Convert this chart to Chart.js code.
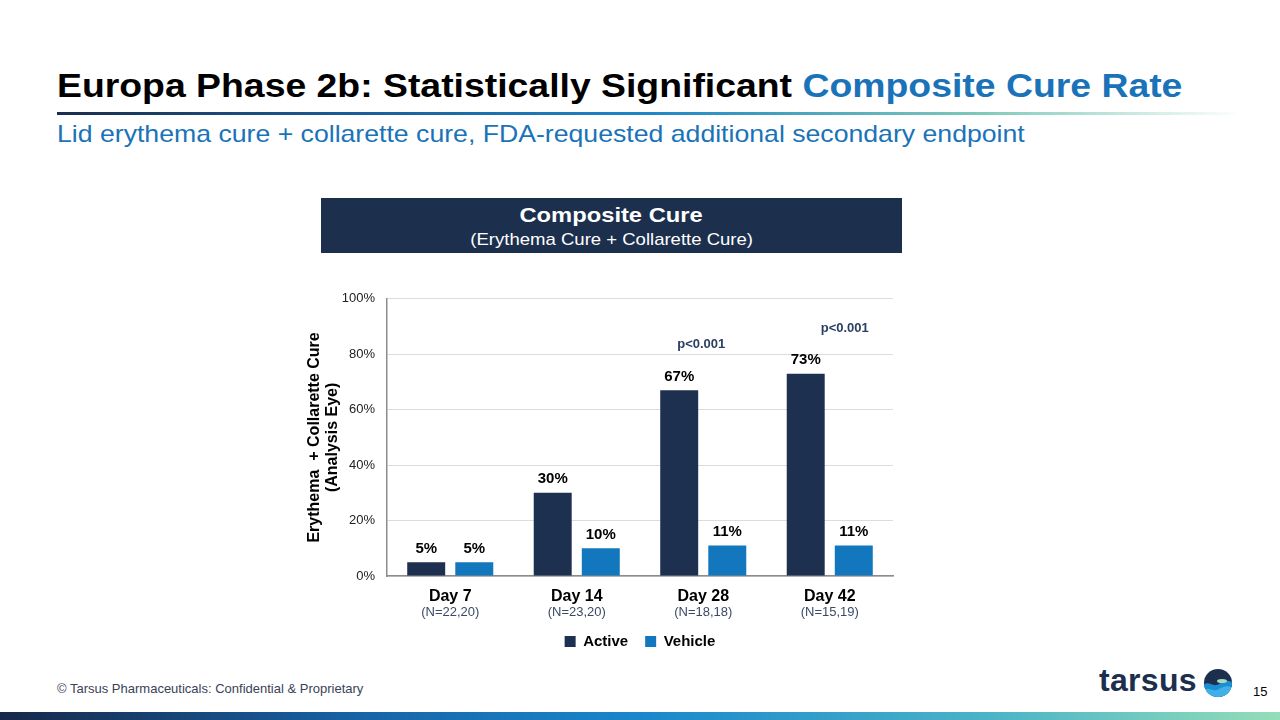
<!DOCTYPE html>
<html>
<head>
<meta charset="utf-8">
<script src="https://cdn.jsdelivr.net/npm/chart.js@4/dist/chart.umd.min.js"></script>
<style>
  html, body { margin:0; padding:0; background:#fff; }
  body { width:1280px; height:720px; position:relative; overflow:hidden; font-family:"Liberation Sans", Arial, sans-serif; }
  .title { position:absolute; left:57px; top:66px; font-size:34px; font-weight:bold; color:#000; white-space:nowrap; transform:scaleX(1.099); transform-origin:left top; }
  .title .hl { color:#1a73b8; }
  .rule { position:absolute; left:57px; top:112px; width:1185px; height:3px;
          background:linear-gradient(90deg,#1b2d4b 0%,#1a5d9a 25%,#1f86c6 50%,#7fc9b9 78%,rgba(200,235,225,0) 100%); }
  .subtitle { position:absolute; left:57px; top:120px; font-size:24px; color:#1a73b8; white-space:nowrap; transform:scaleX(1.11); transform-origin:left top; }
  .hbox { position:absolute; left:321px; top:198px; width:581px; height:55px; background:#1c2f4d; color:#fff; text-align:center; }
  .hbox .t1 { font-size:21px; font-weight:bold; margin-top:5px; line-height:24px; }
  .hbox .t2 { font-size:17px; line-height:22px; margin-top:2px; }
  .hbox span { display:inline-block; }
  .hbox .t1 span { transform:scaleX(1.13); }
  .hbox .t2 span { transform:scaleX(1.09); }
  #wrap { position:absolute; left:296px; top:279px; width:614px; height:380px; }
  .footer { position:absolute; left:57px; top:681px; font-size:13px; color:#3a4258; white-space:nowrap; }
  .page { position:absolute; left:1253px; top:684px; font-size:13px; color:#000; }
  .logo { position:absolute; left:1099px; top:662px; font-size:32px; font-weight:bold; color:#1c2f4d; letter-spacing:0.3px; }
  .mark { position:absolute; left:1203px; top:668px; }
  .bar { position:absolute; left:0; top:712px; width:1280px; height:8px;
         background:linear-gradient(90deg,#17284a 0%,#1763a6 28%,#1a87cc 50%,#4db5c6 78%,#94ddb9 100%); }
</style>
</head>
<body>
<div class="title">Europa Phase 2b: Statistically Significant <span class="hl">Composite Cure Rate</span></div>
<div class="rule"></div>
<div class="subtitle">Lid erythema cure + collarette cure, FDA-requested additional secondary endpoint</div>
<div class="hbox"><div class="t1"><span>Composite Cure</span></div><div class="t2"><span>(Erythema Cure + Collarette Cure)</span></div></div>
<div id="wrap"><canvas id="c"></canvas></div>
<div class="footer">© Tarsus Pharmaceuticals: Confidential &amp; Proprietary</div>
<div class="page">15</div>
<div class="logo">tarsus</div>
<svg class="mark" width="30" height="30" viewBox="0 0 30 30">
  <defs><clipPath id="cl"><circle cx="15" cy="15" r="14"/></clipPath></defs>
  <circle cx="15" cy="15" r="14" fill="#1c2f4d"/>
  <g clip-path="url(#cl)">
    <path d="M0 17 C6 12, 10 20, 16 16 S 26 12, 30 15 L30 30 L0 30 Z" fill="#1a8fd6"/>
    <path d="M0 22 C6 18, 10 25, 16 21 S 26 18, 30 20 L30 30 L0 30 Z" fill="#3fb0e8"/>
    <ellipse cx="19" cy="13" rx="5" ry="2" fill="#a9d9c2"/>
  </g>
</svg>
<div class="bar"></div>
<script>
const categories = ['Day 7', 'Day 14', 'Day 28', 'Day 42'];
const nLabels = ['(N=22,20)', '(N=23,20)', '(N=18,18)', '(N=15,19)'];
const activeValues = [5, 30, 67, 73];
const vehicleValues = [5, 10, 11, 11];
const pLabels = ['', '', 'p<0.001', 'p<0.001'];
const yTickValues = [0, 20, 40, 60, 80, 100];
const seriesNames = ['Active', 'Vehicle'];

const FONT = '"Liberation Sans", Arial, sans-serif';

const labelPlugin = {
  id: 'labels',
  afterDatasetsDraw(chart) {
    const ctx = chart.ctx;
    ctx.save();
    ctx.textAlign = 'center';
    ctx.textBaseline = 'bottom';
    ctx.font = 'bold 15px ' + FONT;
    ctx.fillStyle = '#000';
    chart.data.datasets.forEach((ds, di) => {
      const meta = chart.getDatasetMeta(di);
      meta.data.forEach((bar, i) => {
        ctx.fillText(ds.data[i] + '%', bar.x, bar.y - 6);
      });
    });
    const xs = chart.scales.x;
    const metaA = chart.getDatasetMeta(0);
    ctx.font = 'bold 13px ' + FONT;
    ctx.fillStyle = '#2b3f63';
    const shift = [0, 0, -2, 15];
    pLabels.forEach((p, i) => {
      if (!p) return;
      ctx.fillText(p, xs.getPixelForValue(i) + shift[i], metaA.data[i].y - 39);
    });
    ctx.font = '13px ' + FONT;
    ctx.fillStyle = '#3a4a66';
    ctx.textBaseline = 'middle';
    nLabels.forEach((n, i) => {
      ctx.fillText(n, xs.getPixelForValue(i), xs.top + 36);
    });
    ctx.restore();
  }
};

new Chart(document.getElementById('c'), {
  type: 'bar',
  data: {
    labels: categories,
    datasets: [
      { label: seriesNames[0], data: activeValues, backgroundColor: '#1d3050', categoryPercentage: 0.76, barPercentage: 0.79 },
      { label: seriesNames[1], data: vehicleValues, backgroundColor: '#1277bd', categoryPercentage: 0.76, barPercentage: 0.79 }
    ]
  },
  options: {
    responsive: true,
    maintainAspectRatio: false,
    animation: false,
    layout: { padding: { left: 0, right: 17, top: 1, bottom: 0 } },
    plugins: {
      tooltip: { enabled: false },
      legend: {
        position: 'bottom',
        fullSize: false,
        labels: { boxWidth: 11, boxHeight: 11, color: '#000', font: { family: FONT, size: 15, weight: 'bold' }, padding: 17 }
      }
    },
    scales: {
      x: {
        grid: { display: false, drawTicks: false },
        border: { color: '#8c8c8c', width: 1.5 },
        ticks: { color: '#000', font: { family: FONT, size: 16, weight: 'bold' }, padding: 11 },
        afterFit(s) { s.height = 41; }
      },
      y: {
        min: 0, max: 100,
        afterBuildTicks(s) { s.ticks = yTickValues.map(v => ({ value: v })); },
        grid: { color: '#dcdcdc', lineWidth: 1, drawTicks: false },
        border: { color: '#8c8c8c', width: 1.5 },
        ticks: { color: '#222', font: { family: FONT, size: 13 }, padding: 12, callback: v => v + '%' },
        title: { display: true, text: ['Erythema  + Collarette Cure', '(Analysis Eye)'], color: '#000', font: { family: FONT, size: 16, weight: 'bold', lineHeight: 1.15 }, padding: { top: 9, bottom: 2 } },
        afterFit(s) { s.width = 91; }
      }
    }
  },
  plugins: [labelPlugin]
});
</script>
</body>
</html>
